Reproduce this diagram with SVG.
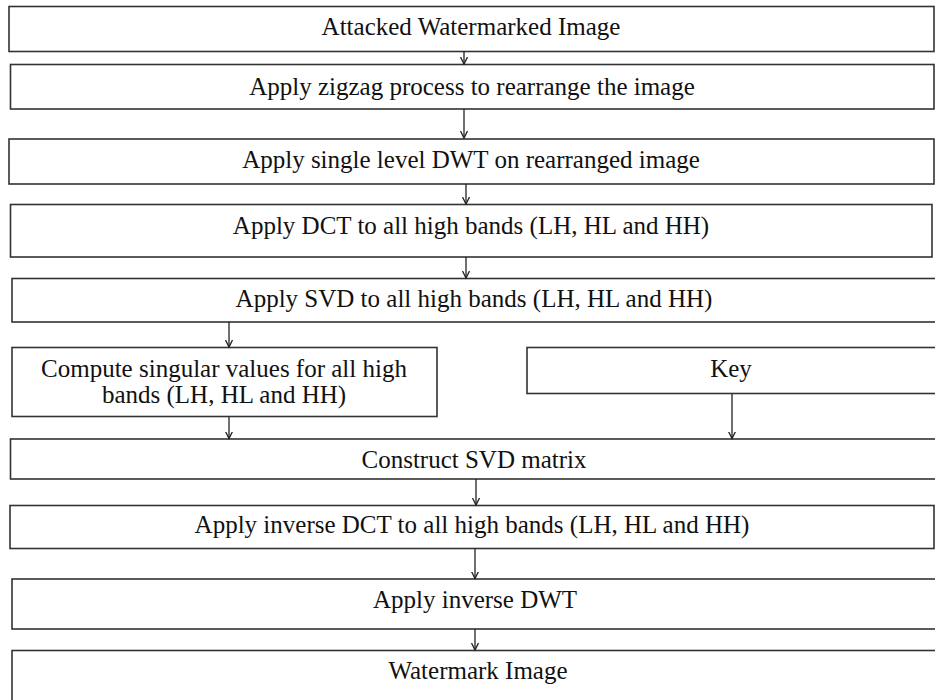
<svg xmlns="http://www.w3.org/2000/svg" width="935" height="700" viewBox="0 0 935 700">
<defs>
<style>
.box{fill:#fff;stroke:#333;stroke-width:1.6}
.t{font-family:'Liberation Serif','DejaVu Serif',serif;font-size:25px;fill:#111;text-anchor:middle}
.c{fill:none;stroke:#222;stroke-width:1.3}
</style>
<marker id="ah" markerWidth="10" markerHeight="10" refX="7" refY="4" orient="auto" markerUnits="userSpaceOnUse" viewBox="0 0 10 10">
<path d="M0,0.5 L7,4 L0,7.5" fill="none" stroke="#222" stroke-width="1.3"/>
</marker>
</defs>
<rect width="935" height="700" fill="#fff"/>
<g id="n1"><rect class="box" x="9" y="6.5" width="925" height="45"/><text class="t" x="471" y="35">Attacked Watermarked Image</text></g>
<g id="n2"><rect class="box" x="10.5" y="64.5" width="923.5" height="44.5"/><text class="t" x="472" y="95">Apply zigzag process to rearrange the image</text></g>
<g id="n3"><rect class="box" x="9" y="139" width="925" height="45"/><text class="t" x="471" y="168">Apply single level DWT on rearranged image</text></g>
<g id="n4"><rect class="box" x="10.5" y="204.5" width="921.5" height="52.5"/><text class="t" x="471" y="234">Apply DCT to all high bands (LH, HL and HH)</text></g>
<g id="n5"><rect class="box" x="12" y="278.5" width="924" height="43.5"/><text class="t" x="474" y="307">Apply SVD to all high bands (LH, HL and HH)</text></g>
<g id="n6"><rect class="box" x="12" y="347.5" width="425" height="69"/><text class="t" x="224" y="377">Compute singular values for all high</text><text class="t" x="224" y="403">bands (LH, HL and HH)</text></g>
<g id="n7"><rect class="box" x="527" y="347.5" width="409" height="46"/><text class="t" x="731" y="377">Key</text></g>
<g id="n8"><rect class="box" x="10.5" y="439" width="925.5" height="40"/><text class="t" x="474" y="468">Construct SVD matrix</text></g>
<g id="n9"><rect class="box" x="10" y="505.5" width="924" height="43"/><text class="t" x="472" y="533">Apply inverse DCT to all high bands (LH, HL and HH)</text></g>
<g id="n10"><rect class="box" x="12" y="579" width="924" height="50"/><text class="t" x="475" y="608">Apply inverse DWT</text></g>
<g id="n11"><rect class="box" x="12" y="650.5" width="924" height="60"/><text class="t" x="478" y="679">Watermark Image</text></g>
<g id="connectors">
<line class="c" x1="464" y1="51.5" x2="464" y2="64" marker-end="url(#ah)"/>
<line class="c" x1="464" y1="109" x2="464" y2="138" marker-end="url(#ah)"/>
<line class="c" x1="466" y1="184" x2="466" y2="204" marker-end="url(#ah)"/>
<line class="c" x1="466" y1="257" x2="466" y2="278" marker-end="url(#ah)"/>
<line class="c" x1="229" y1="322" x2="229" y2="347" marker-end="url(#ah)"/>
<line class="c" x1="229" y1="417" x2="229" y2="438.5" marker-end="url(#ah)"/>
<line class="c" x1="732" y1="394" x2="732" y2="438.5" marker-end="url(#ah)"/>
<line class="c" x1="476" y1="479" x2="476" y2="505" marker-end="url(#ah)"/>
<line class="c" x1="475" y1="549" x2="475" y2="578.5" marker-end="url(#ah)"/>
<line class="c" x1="475" y1="629" x2="475" y2="650" marker-end="url(#ah)"/>
</g>
</svg>
